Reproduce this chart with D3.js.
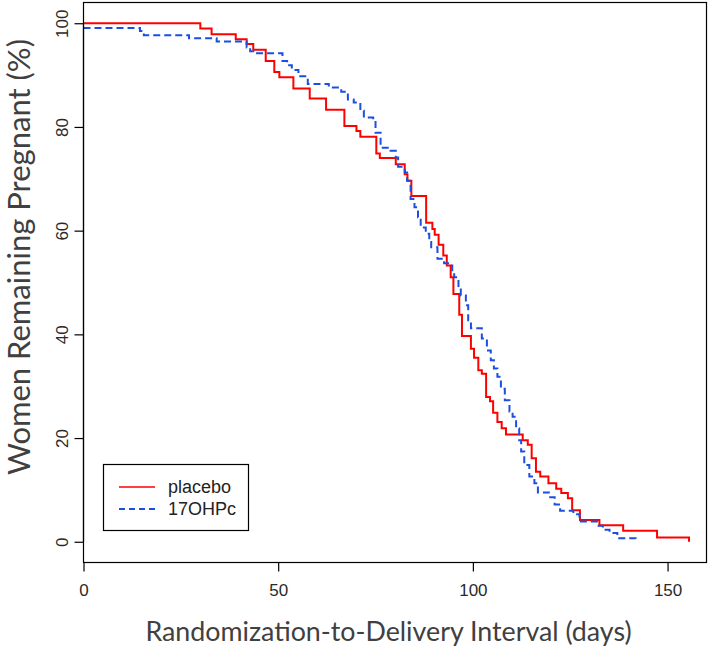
<!DOCTYPE html>
<html>
<head>
<meta charset="utf-8">
<script src="https://cdn.jsdelivr.net/npm/d3@7"></script>
<style>
  html, body { margin: 0; padding: 0; background: #fff; }
  svg { display: block; }
</style>
</head>
<body>
<svg id="chart" width="712" height="647"></svg>
<script>
// ---- data (days, % remaining pregnant) ----
const placeboTimes = [0, 30.0, 32.9, 39.1, 41.9, 43.6, 46.8, 49.0, 50.3, 53.9, 58.1, 62.3, 67.0, 70.1, 71.1, 75.2, 76.1, 80.2, 82.5, 83.2, 84.2, 88.0, 89.6, 90.2, 91.2, 92.4, 93.3, 94.3, 95.0, 96.5, 97.2, 99.5, 100.3, 101.4, 102.3, 103.4, 104.4, 105.2, 106.3, 107.4, 108.5, 112.8, 114.1, 115.1, 116.2, 117.3, 119.4, 121.4, 122.7, 124.4, 125.5, 127.5, 132.5, 138.6, 147.3, 155.5];
const placeboSurv  = [100, 99.0, 97.9, 96.9, 96.0, 94.9, 92.7, 90.6, 89.6, 87.4, 85.5, 83.3, 80.2, 79.2, 78.1, 74.9, 74.0, 72.8, 70.9, 69.6, 66.7, 61.5, 60.3, 59.2, 57.3, 55.2, 53.3, 51.0, 47.8, 43.8, 39.7, 37.2, 35.5, 33.1, 32.4, 27.9, 27.1, 24.9, 23.1, 21.9, 20.7, 19.6, 18.7, 16.1, 13.5, 12.6, 11.3, 10.2, 9.4, 8.4, 6.1, 4.2, 3.2, 2.1, 0.8, 0];

const ohpcTimes = [0, 14.5, 15.5, 27.1, 34.2, 41.9, 42.8, 43.6, 51.1, 52.3, 53.5, 55.2, 57.6, 63.0, 66.2, 67.9, 69.4, 71.1, 72.0, 74.4, 75.0, 76.3, 78.4, 80.2, 80.8, 82.5, 83.1, 84.0, 85.0, 85.9, 86.6, 87.9, 88.8, 89.3, 90.9, 92.6, 93.9, 94.7, 95.2, 96.3, 96.9, 98.2, 98.8, 99.5, 102.3, 103.6, 104.6, 105.4, 106.3, 107.2, 108.2, 109.4, 110.2, 111.1, 111.9, 112.4, 113.2, 114.5, 115.8, 116.7, 119.5, 121.0, 122.4, 125.8, 127.4, 132.3, 133.4, 135.1, 137.1, 141.8];
const ohpcSurv  = [99.1, 98.5, 97.7, 97.1, 96.5, 95.3, 94.6, 94.2, 92.7, 91.9, 91.0, 89.8, 88.3, 87.6, 86.8, 85.3, 84.7, 83.1, 81.8, 81.2, 78.9, 76.0, 75.4, 74.1, 72.3, 71.2, 69.6, 66.1, 64.5, 62.6, 60.6, 59.4, 57.8, 56.8, 54.6, 53.7, 53.3, 52.0, 51.0, 49.1, 47.5, 45.6, 42.7, 41.2, 39.2, 36.9, 35.0, 33.4, 31.8, 29.5, 27.3, 25.1, 24.1, 21.9, 19.6, 17.4, 14.8, 12.6, 11.3, 9.5, 8.6, 7.2, 6.0, 5.3, 3.9, 3.1, 2.3, 1.7, 0.7, 0];

const xTicks = [0, 50, 100, 150];
const yTicks = [0, 20, 40, 60, 80, 100];
const seriesNames = ["placebo", "17OHPc"];
const xTitle = "Randomization-to-Delivery Interval (days)";
const yTitle = "Women Remaining Pregnant (%)";

// ---- layout ----
const svg = d3.select("#chart");
const L = 83.5, R = 706.5, T = 2.5, B = 562.5;

const x = d3.scaleLinear().domain([0, 160]).range([L, R]);
const y = d3.scaleLinear().domain([-4, 104]).range([B, T]);

const red = "#ff0000";
const blue = "#1a4fe0";

// lines
const line = d3.line()
  .x(d => x(d[0]))
  .y(d => y(d[1]))
  .curve(d3.curveStepAfter);

const placebo = placeboTimes.map((t, i) => [t, placeboSurv[i]]);
const ohpc = ohpcTimes.map((t, i) => [t, ohpcSurv[i]]);

svg.append("clipPath").attr("id", "clip")
  .append("rect").attr("x", L).attr("y", T).attr("width", R - L).attr("height", B - T);

const g = svg.append("g").attr("clip-path", "url(#clip)");

g.append("path").datum(placebo)
  .attr("d", line)
  .attr("fill", "none")
  .attr("stroke", red)
  .attr("stroke-width", 2);

g.append("path").datum(ohpc)
  .attr("d", line)
  .attr("fill", "none")
  .attr("stroke", blue)
  .attr("stroke-width", 2)
  .attr("stroke-dasharray", "7,4");

// box
svg.append("rect")
  .attr("x", L).attr("y", T)
  .attr("width", R - L).attr("height", B - T)
  .attr("fill", "none")
  .attr("stroke", "#000")
  .attr("stroke-width", 1.2);

const tickFont = "'Liberation Sans', Arial, sans-serif";

// x axis
const xAxis = svg.append("g")
  .attr("transform", `translate(0,${B})`)
  .call(d3.axisBottom(x).tickValues(xTicks).tickSize(9).tickPadding(12).tickFormat(d3.format("d")));
xAxis.select(".domain").attr("d", `M${x(0)},0H${x(150)}`).attr("stroke", "#000").attr("stroke-width", 1.2);
xAxis.selectAll(".tick line").attr("stroke", "#000").attr("stroke-width", 1.2);
xAxis.selectAll(".tick text")
  .attr("font-family", tickFont)
  .attr("font-size", 17)
  .attr("fill", "#2a2a2a");

// y axis
const yAxis = svg.append("g")
  .attr("transform", `translate(${L},0)`)
  .call(d3.axisLeft(y).tickValues(yTicks).tickSize(9).tickFormat(d3.format("d")));
yAxis.select(".domain").attr("d", `M0,${y(0)}V${y(100)}`).attr("stroke", "#000").attr("stroke-width", 1.2);
yAxis.selectAll(".tick line").attr("stroke", "#000").attr("stroke-width", 1.2);
yAxis.selectAll(".tick text")
  .attr("font-family", tickFont)
  .attr("font-size", 17)
  .attr("fill", "#2a2a2a")
  .attr("x", null).attr("dy", null)
  .attr("text-anchor", "middle")
  .attr("transform", "translate(-16,0) rotate(-90)");

// axis titles
svg.append("text")
  .attr("x", 388.5)
  .attr("y", 641)
  .attr("text-anchor", "middle")
  .attr("font-family", "Lato, 'Open Sans', sans-serif")
  .attr("font-size", 26.8)
  .attr("fill", "#404040")
  .text(xTitle);

svg.append("text")
  .attr("transform", `translate(30,257) rotate(-90)`)
  .attr("text-anchor", "middle")
  .attr("font-family", "Lato, 'Open Sans', sans-serif")
  .attr("font-size", 31)
  .attr("fill", "#404040")
  .text(yTitle);

// legend
const lg = svg.append("g");
lg.append("rect")
  .attr("x", 103.5).attr("y", 464.5)
  .attr("width", 145).attr("height", 66)
  .attr("fill", "#fff")
  .attr("stroke", "#000")
  .attr("stroke-width", 1.2);
const legendColors = [red, blue];
const legendDash = [null, "6,4"];
seriesNames.forEach((name, i) => {
  const yy = 487 + i * 22;
  lg.append("line")
    .attr("x1", 119).attr("x2", 155)
    .attr("y1", yy).attr("y2", yy)
    .attr("stroke", legendColors[i])
    .attr("stroke-width", i === 0 ? 1.3 : 2)
    .attr("stroke-dasharray", legendDash[i]);
  lg.append("text")
    .attr("x", 168).attr("y", yy)
    .attr("dy", "0.36em")
    .attr("font-family", tickFont)
    .attr("font-size", 18)
    .attr("fill", "#222")
    .text(name);
});
</script>
</body>
</html>
